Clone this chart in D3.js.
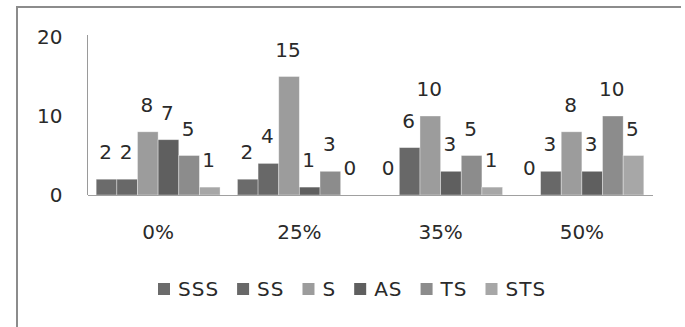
<!DOCTYPE html>
<html>
<head>
<meta charset="utf-8">
<script src="https://cdn.jsdelivr.net/npm/d3@7"></script>
<style>
  body { margin: 0; background: #fff; }
  text { font-family: "DejaVu Sans", sans-serif; fill: #2a2a2a; }
</style>
</head>
<body>
<div id="chart"></div>
<script>
var w = 685;
var h = 327;

// data
var categories = ["0%", "25%", "35%", "50%"];
var seriesNames = ["SSS", "SS", "S", "AS", "TS", "STS"];
var seriesColors = ["#6b6b6b", "#686868", "#9c9c9c", "#5f5f5f", "#8c8c8c", "#a7a7a7"];
var SSS = [2, 2, 0, 0];
var SS  = [2, 4, 6, 3];
var S   = [8, 15, 10, 8];
var AS  = [7, 1, 3, 3];
var TS  = [5, 3, 5, 10];
var STS = [1, 0, 1, 5];
var yTicks = [0, 10, 20];

var seriesValues = [SSS, SS, S, AS, TS, STS];
var fontSize = "20px";

var rows = [];
categories.forEach(function(c, i) {
  seriesNames.forEach(function(s, j) {
    rows.push({ cat: c, series: s, idx: j, value: seriesValues[j][i] });
  });
});

var svg = d3.select("#chart").append("svg")
  .attr("width", w)
  .attr("height", h);

// outer frame (only top and left visible in the picture)
svg.append("line")
  .attr("x1", 16).attr("x2", 681).attr("y1", 7).attr("y2", 7)
  .style("stroke", "#8c8c8c").style("stroke-width", 2);
svg.append("line")
  .attr("x1", 17).attr("x2", 17).attr("y1", 6).attr("y2", h)
  .style("stroke", "#8c8c8c").style("stroke-width", 2);

var x0 = d3.scaleBand()
  .domain(categories)
  .range([87.5, 652.5])
  .paddingInner(0.123)
  .paddingOuter(0.0615);

var x1 = d3.scaleBand()
  .domain(seriesNames)
  .range([0, x0.bandwidth()]);

var y = d3.scaleLinear()
  .domain([0, 20])
  .range([195, 37]);

// bars
svg.selectAll(".bar")
    .data(rows)
  .enter().append("rect")
    .attr("class", "bar")
    .attr("x", function(d) { return x0(d.cat) + x1(d.series); })
    .attr("y", function(d) { return y(d.value); })
    .attr("width", x1.bandwidth())
    .attr("height", function(d) { return y(0) - y(d.value); })
    .style("fill", function(d) { return seriesColors[d.idx]; })
    .style("stroke", "rgba(255,255,255,0.45)")
    .style("stroke-width", 0.8);

// value labels
svg.selectAll(".val")
    .data(rows)
  .enter().append("text")
    .attr("class", "val")
    .attr("x", function(d) { return x0(d.cat) + x1(d.series) + x1.bandwidth() / 2 - 1; })
    .attr("y", function(d) { return y(d.value) - 20; })
    .attr("text-anchor", "middle")
    .style("font-size", fontSize)
    .text(function(d) { return d.value; });

// y axis
var yAxis = svg.append("g")
  .attr("transform", "translate(87.5,0)")
  .call(d3.axisLeft(y).tickValues(yTicks).tickSize(0).tickPadding(25));
yAxis.select(".domain").attr("d", "M0,35V195").style("stroke", "#9a9a9a");
yAxis.selectAll("text").style("font-size", fontSize).style("font-family", "DejaVu Sans").style("fill", "#2a2a2a");

// x axis
var xAxis = svg.append("g")
  .attr("transform", "translate(0,195)")
  .call(d3.axisBottom(x0).tickSize(0).tickSizeOuter(0).tickPadding(30));
xAxis.select(".domain").style("stroke", "#a0a0a0");
xAxis.selectAll("text").style("font-size", fontSize).style("font-family", "DejaVu Sans").style("fill", "#2a2a2a");

// legend
var legend = svg.append("g").attr("class", "legend");
var lx = 158;
seriesNames.forEach(function(s, j) {
  var item = legend.append("g").attr("transform", "translate(" + lx + ",0)");
  item.append("rect")
    .attr("x", 0).attr("y", 283)
    .attr("width", 12).attr("height", 12)
    .style("fill", seriesColors[j]);
  var t = item.append("text")
    .attr("x", 20).attr("y", 296)
    .style("font-size", fontSize)
    .style("letter-spacing", "1px")
    .text(s);
  lx += 20 + t.node().getComputedTextLength() + 18;
});
</script>
</body>
</html>
